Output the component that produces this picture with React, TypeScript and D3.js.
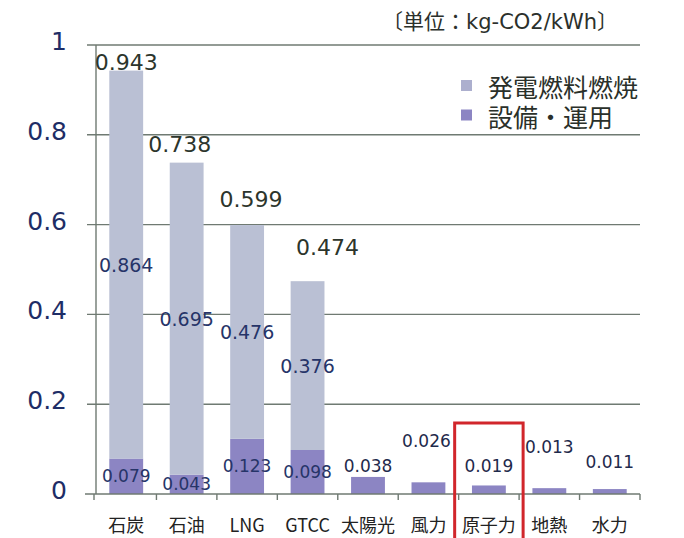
import * as d3 from 'd3';
import React from 'react';

// 電源別ライフサイクルCO2排出量
const categories = ['石炭', '石油', 'LNG', 'GTCC', '太陽光', '風力', '原子力', '地熱', '水力'];
const fuelValues = [0.864, 0.695, 0.476, 0.376, 0, 0, 0, 0, 0];        // 発電燃料燃焼
const equipValues = [0.079, 0.043, 0.123, 0.098, 0.038, 0.026, 0.019, 0.013, 0.011]; // 設備・運用
const totalValues = [0.943, 0.738, 0.599, 0.474, 0.038, 0.026, 0.019, 0.013, 0.011];
const yTicks = [0, 0.2, 0.4, 0.6, 0.8, 1];
const tickLabels = ['0', '0.2', '0.4', '0.6', '0.8', '1'];
const legendLabels = ['発電燃料燃焼', '設備・運用'];
const unitJp = '〔単位：';
const unitLatin = 'kg-CO2/kWh';
const highlighted = '原子力';

// label nudges (layout only)
const totalLift = [1, 11, 18, 26, 5, 35, 13, 35, 21];
const totalDx = [0, -7, 4, 20, 0, -2, 0, 0, 0];

const width = 684;
const height = 538;
const fuelColor = '#bac0d4';
const equipColor = '#8c85c3';
const gridColor = '#6f7a72';
const numFont = '"DejaVu Sans", Verdana, sans-serif';
const jpFont = '"Noto Sans CJK JP", sans-serif';

function App(): any {
  const x = d3.scaleBand<string>()
    .domain(categories)
    .range([96, 640])
    .paddingInner(0.44)
    .paddingOuter(0.22);

  const y = d3.scaleLinear()
    .domain([0, 1])
    .range([494, 45]);

  const stack = d3.stack<any>()
    .keys(['equip', 'fuel'])(categories.map((c, i) => ({ cat: c, equip: equipValues[i], fuel: fuelValues[i] })));

  const colors = [equipColor, fuelColor];
  const step = x.step();
  const left = 96;
  const right = 640;

  return (
    <svg width={width} height={height} style={{ position: 'absolute', left: 0, top: 0, background: '#fff' }}>
      <rect x={0} y={0} width={width} height={height} fill="#fff" />

      {/* unit */}
      <text x={618} y={29} textAnchor="end" fontFamily={jpFont} fontSize={21} fill="#2b302b">
        {unitJp}
        <tspan fontFamily={numFont} fontSize={21}>{unitLatin}</tspan>
        〕
      </text>

      {/* grid */}
      {yTicks.filter(t => t > 0).map(t => (
        <line key={t} x1={left - 9} x2={right} y1={y(t)} y2={y(t)} stroke={gridColor} strokeWidth={1.4} />
      ))}
      {yTicks.map((t, i) => (
        <text key={'t' + t} x={67} y={y(t) - 3.5} textAnchor="end" dominantBaseline="central"
          fontFamily={numFont} fontSize={25} fill="#1e2d66">{tickLabels[i]}</text>
      ))}

      {/* bars */}
      {stack.map((layer, li) => (
        <g key={layer.key}>
          {layer.map((d, i) => (d[1] - d[0] > 0 ?
            <rect key={i} x={x(categories[i])} width={x.bandwidth()}
              y={y(d[1])} height={y(d[0]) - y(d[1])} fill={colors[li]} /> : null))}
        </g>
      ))}

      {/* axes */}
      <line x1={left} x2={left} y1={y(1)} y2={y(0)} stroke={gridColor} strokeWidth={1.4} />
      <line x1={left - 11} x2={right} y1={y(0)} y2={y(0)} stroke={gridColor} strokeWidth={1.6} />
      {d3.range(categories.length + 1).map(i => (
        <line key={'xt' + i} x1={left + i * step - 2 * (i === 0 ? 1 : 0)} x2={left + i * step - 2 * (i === 0 ? 1 : 0)}
          y1={y(0)} y2={y(0) + 6} stroke={gridColor} strokeWidth={1.4} />
      ))}

      {/* segment labels for thermal */}
      {stack.map((layer, li) => layer.map((d, i) => (
        i < 4 ?
          <text key={layer.key + i} x={(x(categories[i]) as number) + x.bandwidth() / 2}
            y={(y(d[0]) + y(d[1])) / 2} textAnchor="middle" dominantBaseline="central"
            fontFamily={numFont} fontSize={li === 0 ? 17 : 19} fill="#263468">
            {(li === 0 ? equipValues[i] : fuelValues[i]).toFixed(3)}
          </text> : null
      )))}

      {/* totals */}
      {totalValues.map((v, i) => (
        <text key={'tot' + i} x={(x(categories[i]) as number) + x.bandwidth() / 2 + totalDx[i]}
          y={y(v) - totalLift[i]} textAnchor="middle"
          fontFamily={numFont} fontSize={i < 4 ? 22 : 17} fill={i < 4 ? '#2c352c' : '#1f2a4c'}>
          {v.toFixed(3)}
        </text>
      ))}

      {/* categories */}
      {categories.map(c => (
        <text key={c} x={(x(c) as number) + x.bandwidth() / 2} y={532} textAnchor="middle"
          fontFamily={jpFont} fontSize={18} fill="#222">{c}</text>
      ))}

      {/* highlight box */}
      <rect x={(x(highlighted) as number) - (step - x.bandwidth()) / 2 - 4} y={423}
        width={step + 8} height={130} fill="none" stroke="#d1262b" strokeWidth={3} />

      {/* legend */}
      {legendLabels.map((l, i) => (
        <g key={l} transform={`translate(461, ${86 + i * 29.5})`}>
          <rect x={0} y={-6} width={11} height={11} fill={i === 0 ? '#acafce' : equipColor} />
          <text x={27} y={0} dominantBaseline="central" fontFamily={jpFont} fontSize={25} fill="#2a302a">{l}</text>
        </g>
      ))}
    </svg>
  );
}

export default App;
